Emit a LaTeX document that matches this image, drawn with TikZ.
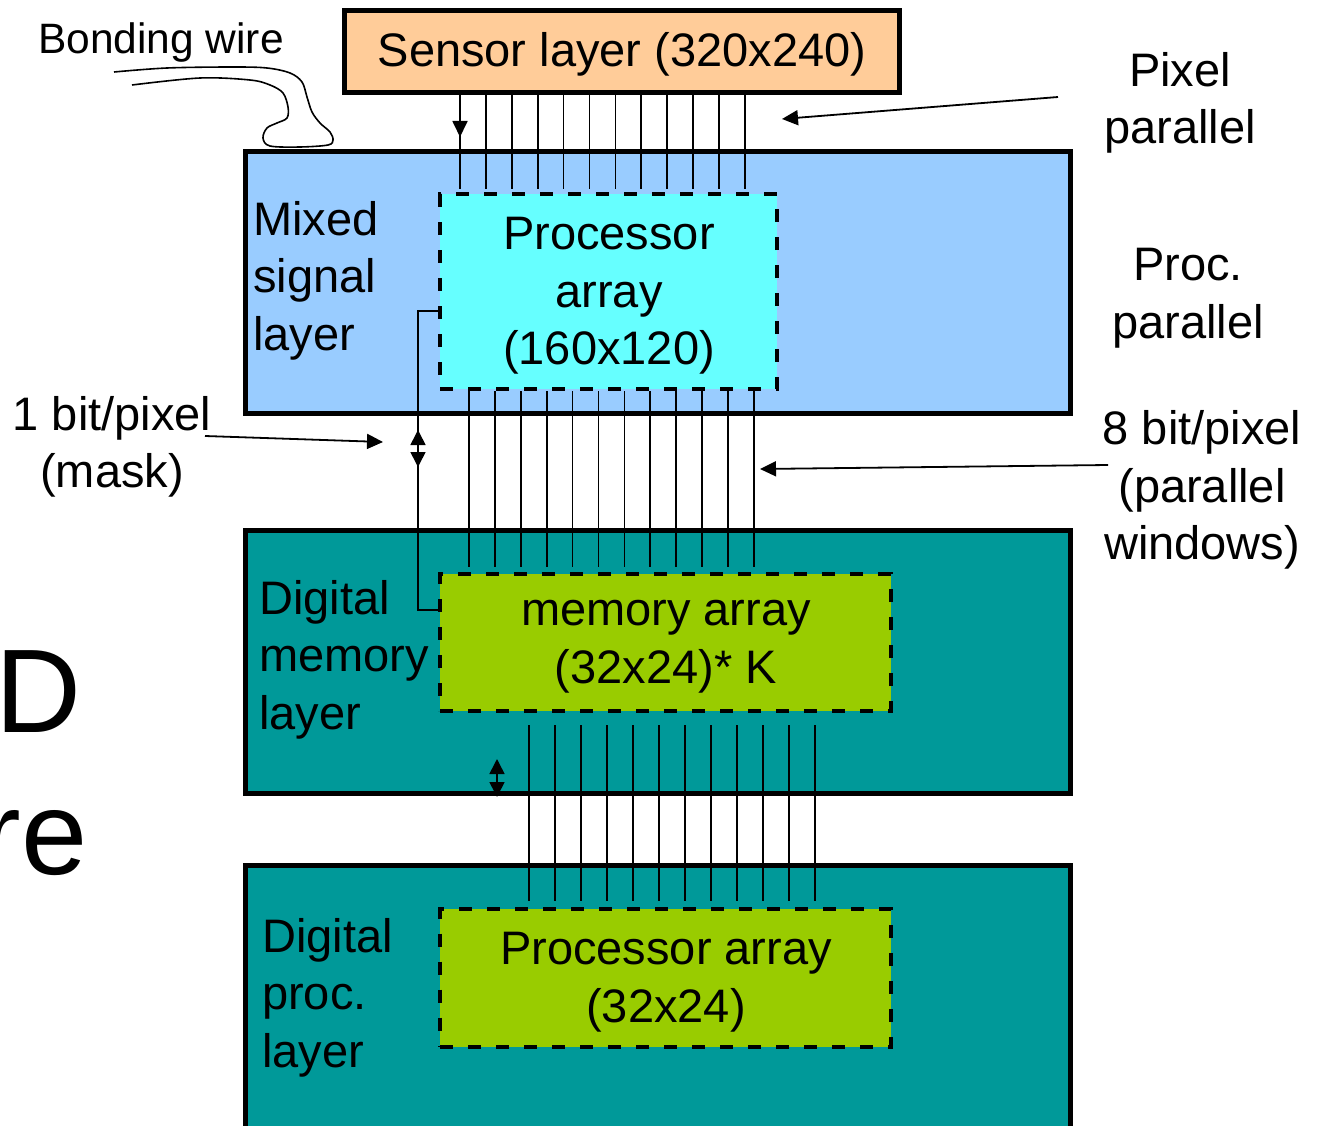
\documentclass[tikz,border=0pt]{standalone}
\usepackage{fontspec}
\setmainfont{Liberation Sans}
\usetikzlibrary{arrows.meta}
\definecolor{sensorc}{HTML}{FFCC99}
\definecolor{mixedc}{HTML}{99CCFF}
\definecolor{procc}{HTML}{66FFFF}
\definecolor{tealc}{HTML}{009999}
\definecolor{greenc}{HTML}{99CC00}
\begin{document}
\begin{tikzpicture}[x=1pt,y=-1pt,
  txt/.style={font=\fontsize{47}{57.5}\selectfont, inner sep=0pt, align=center},
  ltxt/.style={font=\fontsize{47}{57.5}\selectfont, inner sep=0pt, align=left, anchor=west},
  layerbox/.style={draw=black, line width=5pt, inner sep=0pt},
  arraybox/.style={draw=black, line width=4pt, dash pattern=on 13pt off 15pt, inner sep=0pt},
  wire/.style={line width=1.7pt},
  thinwire/.style={line width=1.4pt},
  tipline/.style={line width=1.8pt, -{Triangle[length=16pt,width=15pt]}},
  dblarrow/.style={line width=1.6pt, {Triangle[length=15pt,width=15pt]}-{Triangle[length=15pt,width=15pt]}},
]
\useasboundingbox (0,0) rectangle (1319,1126);
\begin{scope}
\clip (0,0) rectangle (1319,1126);

% layers
\node[layerbox, fill=sensorc, minimum width=555.5pt, minimum height=82pt] (sensor) at (622,51.5) {};
\node[txt] (sensortxt) at (622,54.5) {Sensor layer (320x240)};
\node[layerbox, fill=mixedc, minimum width=825pt, minimum height=261.5pt] (mixed) at (658,282.25) {};
\node[layerbox, fill=tealc, minimum width=825pt, minimum height=263.5pt] (memlayer) at (658,661.75) {};
\node[layerbox, fill=tealc, minimum width=825pt, minimum height=294.5pt] (proclayer) at (658,1012.75) {};

% arrays
\node[arraybox, fill=procc, minimum width=337pt, minimum height=194.5pt] (pa) at (608.5,291.75) {};
\node[txt] (patxt) at (609,296) {Processor\\array\\(160x120)};
\node[arraybox, fill=greenc, minimum width=451pt, minimum height=137pt] (ma) at (665.5,642.5) {};
\node[txt] (matxt) at (666,646.5) {memory array\\(32x24)* K};
\node[arraybox, fill=greenc, minimum width=451pt, minimum height=137.5pt] (pb) at (665.5,977.75) {};
\node[txt] (pbtxt) at (666,982) {Processor array\\(32x24)};

% layer labels
\node[ltxt] (lmixed) at (253,280.5) {Mixed\\signal\\layer};
\node[ltxt] (lmem) at (259,659.5) {Digital\\memory\\layer};
\node[ltxt] (lproc) at (262,997.5) {Digital\\proc.\\layer};

% wires sensor -> processor array
\foreach \i in {0,...,11}{
  \path ({460+25.9*\i},0) coordinate (c);
  \draw[wire, shorten >=3pt] (c |- sensor.south) -- (c |- pa.north);
}
\coordinate (sa) at (460,137);
\draw[tipline] (sensor.south -| sa) -- (sa);

% wires processor array -> memory array
\foreach \i in {0,...,11}{
  \path ({469+25.9*\i},0) coordinate (c);
  \draw[wire, shorten >=5pt] (c |- pa.south) -- (c |- ma.north);
}

% wires memory array -> processor array
\foreach \i in {0,...,11}{
  \path ({529+26*\i},0) coordinate (c);
  \draw[wire, shorten <=12pt, shorten >=6pt] (c |- ma.south) -- (c |- pb.north);
}

% mask line
\coordinate (mk1) at (418,311);
\coordinate (mk2) at (418,610);
\draw[thinwire] (pa.west |- mk1) -- (mk1) -- (mk2) -- (ma.west |- mk2);
\coordinate (da1) at (418,430);
\coordinate (da2) at (418,467);
\draw[dblarrow] (da1) -- (da2);
\coordinate (db1) at (497,759);
\coordinate (db2) at (497,797);
\draw[dblarrow] (db1) -- (db2);

% side labels
\node[txt] (pixpar) at (1180,103) {Pixel\\parallel};
\coordinate (pp1) at (1058,97);
\coordinate (pp2) at (782,119);
\draw[tipline] (pp1) -- (pp2);

\node[txt] (procpar) at (1188,298) {Proc.\\parallel};

\node[txt] (eightbit) at (1202,490) {8 bit/pixel\\(parallel\\windows)};
\coordinate (eb1) at (1108,465);
\coordinate (eb2) at (760,469);
\draw[tipline] (eb1) -- (eb2);

\node[txt] (onebit) at (112,447) {1 bit/pixel\\(mask)};
\coordinate (ob1) at (205,436);
\coordinate (ob2) at (383,442);
\draw[tipline] (ob1) -- (ob2);

% bonding wire
\node[font=\fontsize{42.5}{50}\selectfont, inner sep=0pt] (bond) at (161,42.5) {Bonding wire};
\draw[line width=1.6pt] plot[smooth, tension=0.55] coordinates {(114,72) (167,68) (233,67) (267,68) (290,73) (302,82) (307,97) (312,112) (320,123) (330,132) (333,140) (328,145) (300,147) (270,146) (263,138) (267,128) (277,123) (287,118) (288,107) (283,93) (270,85) (250,80) (200,78) (132,85)};

% cropped title fragments (cut by the picture edge as in the reference)
\node[font=\fontsize{119}{140}\selectfont, inner sep=0pt, anchor=base east] (tD) at (82,732) {D};
\node[font=\fontsize{119}{140}\selectfont, inner sep=0pt, anchor=base east] (tre) at (88,874) {re};
\end{scope}
\end{tikzpicture}
\end{document}
